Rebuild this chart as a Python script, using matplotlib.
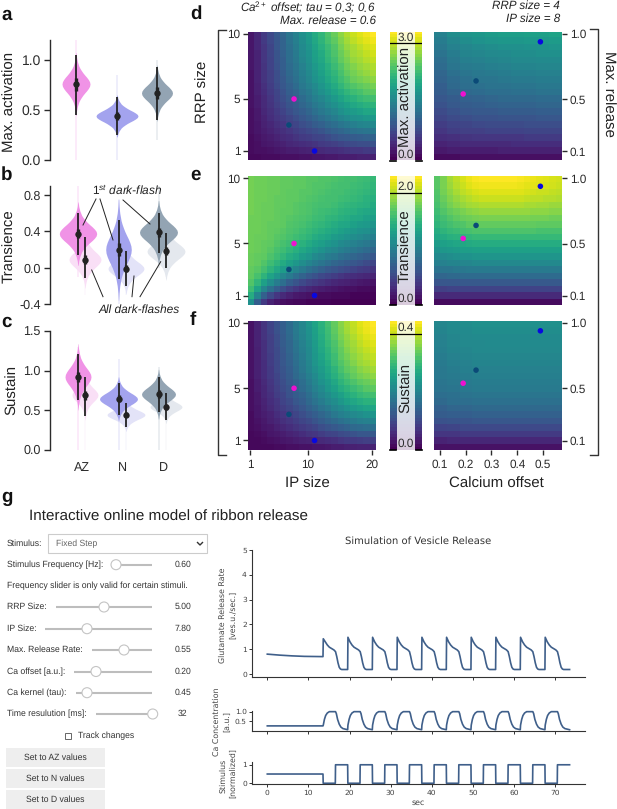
# -*- coding: utf-8 -*-
import matplotlib
matplotlib.use("Agg")
import matplotlib.pyplot as plt
import numpy as np
from matplotlib.patches import Rectangle, Circle

plt.rcParams['font.family'] = ['Liberation Sans', 'DejaVu Sans']
plt.rcParams['mathtext.fontset'] = 'custom'
plt.rcParams['mathtext.it'] = 'Liberation Sans:italic'
plt.rcParams['mathtext.rm'] = 'Liberation Sans'
plt.rcParams['mathtext.default'] = 'it'
plt.rcParams['text.hinting'] = 'no_hinting'

W, H = 617, 809
DARK = '#2b2b2b'

# violins: x, centre, half width, spread, whisker low, whisker high
violin_profile_off = [0, .25, .5, .75, 1, 1.25, 1.5, 1.75, 2, 2.5, 3, 3.5]
violin_profile_w = [1, .97, .88, .76, .62, .49, .38, .28, .2, .1, .04, .01]
az_col, n_col, d_col = '#f093e6', '#a3a3ee', '#93a4b3'
az_light, n_light, d_light = '#f9dff6', '#e3e3f8', '#e4e8ee'

acti_x = [76, 117, 157]
acti_c = [.76, .44, .67]
acti_hw = [14, 21, 15.5]
acti_s = [.09, .06, .08]
acti_lo = [.45, .25, .4]
acti_hi = [1.05, .63, .93]
acti_tail = [(0, 1.2), (0, .85), (.2, 1.0)]

trans_x = [85, 126, 166, 78, 118.5, 158.5]
trans_c = [.09, -.01, .18, .375, .2, .39]
trans_hw = [16, 18, 19, 18.7, 12.8, 19]
trans_s = [.09, .08, .09, .1, .16, .1]
trans_lo = [-.11, -.2, 0, .14, -.12, .16]
trans_hi = [.34, .18, .38, .6, .52, .6]
trans_tail = [(-.3, .4), (-.3, .3), (-.1, .45), (-.1, .9), (-.4, .75), (0, .9)]

sust_x = [85, 126, 166, 78, 118.5, 158.5]
sust_c = [.69, .44, .54, .92, .64, .70]
sust_hw = [13, 19, 16, 13, 19, 17]
sust_s = [.09, .06, .06, .12, .08, .09]
sust_lo = [.42, .29, .37, .63, .44, .48]
sust_hi = [.92, .59, .72, 1.21, .84, .92]
sust_tail = [(0, .95), (0, .7), (0, .8), (0, 1.3), (0, 1.15), (0, 1.05)]
six_cols = [az_light, n_light, d_light, az_col, n_col, d_col]

# heatmaps, percent of the colour range, top row first
activ_left = [
    [6, 11, 17, 22, 28, 33, 39, 44, 50, 55, 61, 66, 72, 77, 83, 88, 92, 95, 98, 100],
    [6, 11, 17, 22, 27, 32, 38, 43, 49, 54, 60, 65, 71, 75, 81, 86, 90, 93, 96, 98],
    [6, 11, 16, 21, 27, 32, 37, 42, 48, 52, 58, 63, 68, 73, 79, 84, 87, 90, 93, 95],
    [6, 10, 16, 21, 26, 31, 36, 41, 47, 51, 57, 61, 67, 72, 77, 82, 86, 88, 91, 93],
    [6, 10, 16, 20, 26, 30, 36, 40, 46, 50, 56, 60, 66, 70, 76, 80, 84, 86, 89, 91],
    [6, 10, 15, 20, 25, 30, 35, 39, 44, 49, 54, 58, 63, 68, 73, 78, 81, 84, 86, 88],
    [5, 10, 15, 19, 24, 29, 34, 38, 43, 47, 52, 57, 62, 66, 71, 76, 79, 82, 84, 86],
    [5, 10, 15, 19, 24, 28, 33, 37, 42, 46, 51, 55, 60, 64, 69, 73, 77, 79, 81, 83],
    [5, 9, 14, 18, 23, 27, 31, 35, 40, 44, 48, 52, 57, 61, 66, 70, 73, 75, 77, 79],
    [5, 9, 13, 17, 21, 25, 30, 33, 38, 41, 46, 50, 54, 58, 62, 66, 69, 71, 74, 75],
    [5, 8, 12, 16, 20, 24, 28, 31, 35, 39, 43, 46, 50, 54, 58, 62, 64, 67, 69, 70],
    [5, 8, 12, 15, 19, 22, 26, 29, 33, 36, 40, 43, 47, 50, 54, 57, 60, 62, 64, 65],
    [4, 7, 11, 14, 17, 20, 24, 27, 30, 33, 37, 40, 43, 46, 50, 53, 55, 57, 59, 60],
    [4, 7, 10, 13, 16, 18, 21, 24, 27, 30, 33, 36, 39, 42, 45, 48, 50, 51, 53, 54],
    [4, 6, 9, 11, 14, 16, 19, 21, 24, 26, 29, 31, 34, 36, 39, 41, 43, 45, 46, 47],
    [4, 6, 8, 10, 12, 14, 16, 18, 20, 22, 24, 26, 29, 31, 33, 35, 37, 38, 39, 40],
    [3, 5, 7, 8, 10, 12, 13, 15, 17, 18, 20, 21, 23, 25, 27, 28, 29, 30, 31, 32],
    [3, 4, 6, 7, 8, 9, 11, 12, 13, 14, 15, 17, 18, 19, 21, 22, 23, 24, 24, 25],
    [3, 4, 4, 5, 6, 7, 8, 8, 9, 10, 11, 12, 13, 13, 14, 15, 16, 16, 17, 17],
    [2, 2, 3, 3, 3, 4, 4, 4, 5, 5, 6, 6, 7, 7, 8, 8, 8, 9, 9, 9],
]
activ_right = [
    [44, 49, 52, 53, 55, 56, 56, 57, 57, 58],
    [42, 46, 49, 51, 52, 53, 53, 54, 54, 55],
    [40, 44, 46, 48, 49, 50, 50, 51, 51, 52],
    [38, 42, 45, 46, 47, 48, 49, 49, 50, 50],
    [36, 40, 43, 44, 45, 46, 47, 47, 48, 48],
    [35, 39, 41, 42, 43, 44, 45, 45, 46, 46],
    [33, 37, 39, 40, 41, 42, 43, 43, 44, 44],
    [32, 35, 37, 39, 39, 40, 41, 41, 42, 42],
    [30, 34, 36, 37, 38, 38, 39, 39, 40, 40],
    [29, 32, 34, 35, 36, 36, 37, 37, 38, 38],
    [27, 29, 31, 32, 33, 34, 34, 34, 35, 35],
    [25, 28, 29, 30, 31, 32, 32, 32, 33, 33],
    [23, 25, 27, 28, 28, 29, 29, 29, 30, 30],
    [21, 23, 24, 25, 25, 26, 26, 26, 27, 27],
    [18, 20, 21, 22, 23, 23, 23, 24, 24, 24],
    [16, 18, 19, 19, 20, 20, 20, 21, 21, 21],
    [13, 14, 15, 16, 16, 16, 16, 17, 17, 17],
    [10, 11, 12, 12, 12, 12, 13, 13, 13, 13],
    [7, 8, 8, 8, 8, 9, 9, 9, 9, 9],
    [3, 3, 4, 4, 4, 4, 4, 4, 4, 4],
]
trans_left = [
    [79, 78, 78, 77, 77, 76, 76, 75, 75, 74, 74, 73, 73, 72, 71, 70, 70, 69, 68, 67],
    [79, 78, 78, 77, 77, 76, 76, 75, 75, 74, 73, 73, 72, 71, 70, 70, 69, 68, 67, 66],
    [79, 78, 78, 77, 77, 76, 75, 75, 74, 74, 73, 72, 71, 70, 70, 69, 68, 67, 66, 65],
    [79, 78, 78, 77, 76, 76, 75, 75, 74, 73, 72, 71, 70, 70, 69, 68, 67, 66, 64, 63],
    [79, 78, 77, 77, 76, 76, 75, 74, 73, 72, 71, 70, 70, 69, 67, 66, 65, 64, 63, 61],
    [79, 78, 77, 77, 76, 75, 75, 74, 73, 72, 70, 69, 68, 67, 65, 64, 63, 61, 60, 59],
    [78, 78, 77, 77, 76, 75, 74, 73, 72, 71, 69, 68, 66, 65, 63, 62, 60, 59, 57, 56],
    [78, 78, 77, 76, 76, 75, 73, 72, 71, 69, 67, 66, 64, 62, 60, 59, 57, 55, 54, 52],
    [78, 78, 77, 76, 75, 74, 72, 71, 69, 67, 65, 63, 61, 59, 57, 55, 53, 51, 50, 48],
    [78, 77, 77, 76, 74, 73, 71, 69, 67, 65, 62, 60, 58, 55, 53, 51, 49, 47, 45, 43],
    [78, 77, 76, 75, 73, 71, 69, 66, 64, 61, 58, 56, 53, 51, 48, 46, 44, 42, 40, 38],
    [78, 77, 76, 74, 71, 69, 66, 63, 60, 57, 54, 51, 48, 46, 43, 41, 39, 37, 35, 33],
    [77, 76, 75, 72, 69, 66, 62, 59, 55, 52, 48, 45, 42, 40, 37, 35, 33, 31, 29, 27],
    [77, 76, 73, 69, 65, 61, 57, 53, 49, 45, 42, 39, 36, 33, 31, 29, 27, 25, 23, 21],
    [76, 74, 70, 65, 60, 55, 50, 45, 41, 37, 34, 31, 28, 26, 24, 22, 20, 18, 17, 15],
    [75, 71, 65, 58, 52, 46, 41, 36, 32, 28, 25, 22, 20, 18, 16, 14, 13, 12, 11, 10],
    [73, 66, 57, 49, 42, 36, 30, 26, 22, 19, 17, 15, 13, 11, 10, 9, 8, 7, 6, 5],
    [69, 58, 46, 37, 30, 24, 19, 16, 13, 11, 9, 8, 7, 6, 5, 4, 4, 3, 3, 2],
    [62, 45, 31, 22, 16, 12, 9, 7, 6, 5, 4, 3, 3, 2, 2, 2, 1, 1, 1, 1],
    [50, 30, 17, 10, 6, 4, 3, 2, 2, 1, 1, 1, 1, 0, 0, 0, 0, 0, 0, 0],
]
trans_right = [
    [74, 80, 86, 90, 94, 97, 99, 100, 100, 100, 100, 100, 100, 99, 98, 97, 96, 95, 94, 93],
    [74, 80, 85, 89, 92, 95, 97, 98, 98, 98, 98, 98, 98, 97, 96, 96, 95, 94, 93, 92],
    [73, 79, 83, 87, 90, 92, 94, 95, 95, 95, 95, 95, 95, 95, 94, 93, 92, 92, 91, 90],
    [72, 77, 81, 84, 87, 89, 91, 92, 92, 92, 92, 92, 92, 92, 91, 90, 90, 89, 89, 88],
    [71, 75, 79, 82, 84, 86, 87, 88, 88, 88, 88, 88, 88, 88, 87, 87, 86, 86, 85, 85],
    [69, 73, 76, 78, 80, 82, 83, 84, 84, 84, 84, 84, 84, 84, 84, 83, 83, 83, 82, 82],
    [67, 70, 73, 75, 77, 78, 79, 80, 80, 80, 80, 80, 80, 80, 80, 79, 79, 79, 78, 78],
    [65, 68, 70, 72, 73, 75, 75, 76, 76, 76, 76, 76, 76, 76, 76, 76, 75, 75, 75, 75],
    [62, 65, 67, 68, 70, 71, 72, 72, 72, 72, 72, 72, 72, 72, 72, 72, 71, 71, 71, 71],
    [59, 61, 63, 64, 65, 66, 67, 67, 67, 67, 67, 67, 67, 67, 67, 67, 67, 67, 67, 67],
    [55, 57, 58, 59, 60, 61, 62, 62, 62, 62, 62, 62, 62, 62, 62, 62, 62, 62, 62, 62],
    [51, 53, 54, 55, 56, 56, 57, 57, 57, 57, 57, 57, 57, 57, 57, 57, 57, 57, 57, 57],
    [47, 48, 49, 50, 51, 51, 52, 52, 52, 52, 52, 52, 52, 52, 52, 52, 52, 52, 52, 52],
    [43, 44, 45, 45, 46, 46, 47, 47, 47, 47, 47, 47, 47, 47, 47, 47, 47, 47, 47, 47],
    [38, 39, 39, 40, 40, 41, 41, 41, 41, 41, 41, 41, 41, 41, 41, 41, 41, 41, 41, 41],
    [33, 33, 34, 34, 35, 35, 35, 35, 35, 35, 35, 35, 35, 35, 35, 35, 35, 35, 35, 35],
    [26, 27, 27, 27, 28, 28, 28, 28, 28, 28, 28, 28, 28, 28, 28, 28, 28, 28, 28, 28],
    [19, 19, 20, 20, 20, 20, 20, 20, 20, 20, 20, 20, 20, 20, 20, 20, 20, 20, 20, 20],
    [11, 12, 12, 12, 12, 12, 12, 12, 12, 12, 12, 12, 12, 12, 12, 12, 12, 12, 12, 12],
    [3, 3, 3, 3, 3, 3, 3, 3, 3, 3, 3, 3, 3, 3, 3, 3, 3, 3, 3, 3],
]
sust_left = [
    [5, 10, 15, 20, 25, 30, 35, 41, 46, 52, 58, 64, 70, 76, 82, 87, 91, 95, 98, 100],
    [5, 10, 15, 20, 25, 30, 35, 41, 46, 51, 57, 63, 69, 75, 81, 86, 90, 94, 97, 99],
    [5, 10, 15, 19, 24, 29, 34, 40, 45, 50, 56, 62, 68, 74, 80, 84, 88, 92, 95, 97],
    [5, 10, 14, 19, 24, 29, 33, 39, 44, 49, 55, 61, 67, 72, 78, 83, 86, 90, 93, 95],
    [5, 9, 14, 19, 23, 28, 33, 38, 43, 48, 54, 60, 65, 71, 76, 81, 85, 88, 91, 93],
    [5, 9, 14, 18, 23, 27, 32, 37, 42, 47, 53, 58, 64, 69, 75, 79, 83, 86, 89, 91],
    [5, 9, 13, 18, 22, 27, 31, 36, 41, 46, 52, 57, 62, 68, 73, 77, 81, 85, 87, 89],
    [5, 9, 13, 17, 22, 26, 30, 35, 40, 45, 50, 55, 60, 65, 71, 75, 78, 82, 84, 86],
    [5, 9, 13, 17, 21, 25, 29, 34, 38, 43, 48, 53, 58, 63, 68, 72, 76, 79, 81, 83],
    [4, 8, 12, 16, 20, 24, 28, 32, 36, 41, 46, 51, 55, 60, 65, 69, 72, 75, 77, 79],
    [4, 8, 11, 15, 19, 23, 26, 31, 35, 39, 44, 48, 53, 57, 62, 65, 68, 71, 74, 75],
    [4, 7, 11, 14, 18, 21, 25, 29, 32, 36, 41, 45, 49, 53, 57, 61, 64, 67, 69, 70],
    [4, 7, 10, 13, 16, 20, 23, 27, 30, 34, 38, 42, 46, 49, 53, 57, 59, 62, 64, 65],
    [4, 6, 9, 12, 15, 18, 21, 24, 27, 31, 34, 38, 41, 45, 48, 51, 54, 56, 58, 59],
    [3, 6, 8, 10, 13, 16, 18, 21, 24, 27, 30, 33, 36, 40, 43, 45, 47, 49, 51, 52],
    [3, 5, 7, 9, 11, 14, 16, 18, 21, 23, 26, 29, 32, 34, 37, 39, 41, 43, 44, 45],
    [3, 4, 6, 7, 9, 11, 13, 15, 17, 19, 21, 24, 26, 28, 30, 32, 34, 35, 36, 37],
    [2, 3, 4, 6, 7, 8, 10, 11, 13, 15, 16, 18, 20, 21, 23, 24, 25, 27, 27, 28],
    [2, 2, 3, 4, 5, 6, 7, 8, 9, 10, 11, 12, 13, 14, 16, 17, 17, 18, 19, 19],
    [2, 2, 2, 2, 3, 3, 4, 4, 5, 5, 6, 6, 7, 8, 8, 9, 9, 10, 10, 10],
]
sust_right = [
    [46, 48, 49, 50, 50, 50, 50, 50, 50, 50],
    [45, 47, 48, 49, 49, 49, 49, 49, 49, 49],
    [44, 46, 47, 48, 48, 48, 48, 48, 48, 48],
    [44, 46, 47, 47, 48, 48, 48, 48, 48, 48],
    [43, 45, 46, 47, 47, 47, 47, 47, 47, 47],
    [42, 44, 45, 46, 46, 46, 46, 46, 46, 46],
    [41, 43, 44, 45, 45, 45, 45, 45, 45, 45],
    [40, 42, 43, 44, 44, 44, 44, 44, 44, 44],
    [40, 41, 42, 43, 43, 43, 43, 43, 43, 43],
    [39, 40, 41, 42, 42, 42, 42, 42, 42, 42],
    [38, 39, 40, 41, 41, 41, 41, 41, 41, 41],
    [36, 37, 38, 39, 39, 39, 39, 39, 39, 39],
    [34, 36, 36, 37, 37, 37, 37, 37, 37, 37],
    [31, 33, 33, 34, 34, 34, 34, 34, 34, 34],
    [29, 30, 30, 31, 31, 31, 31, 31, 31, 31],
    [25, 26, 26, 27, 27, 27, 27, 27, 27, 27],
    [20, 21, 22, 22, 22, 22, 22, 22, 22, 22],
    [16, 16, 17, 17, 17, 17, 17, 17, 17, 17],
    [10, 11, 11, 11, 11, 11, 11, 11, 11, 11],
    [5, 5, 5, 5, 5, 5, 5, 5, 5, 5],
]

# points on the maps: AZ, D, N
dot_cols = ['#ee11d0', '#0b4a78', '#0808e0']
dot_ip = [7.8, 7.0, 11.0]
dot_rrp = [5.0, 3.0, 1.0]
dot_ca = [.19, .24, .49]
dot_rel = [.54, .64, .94]

# simulation traces
rel_base_t = [0, 3, 6, 9, 13.55]
rel_base = [.8, .76, .73, .71, .7]
rel_first_peak = 1.42
cycle_onsets = [13.6, 19.6, 25.6, 31.6, 37.6, 43.6, 49.6, 55.6, 61.6, 67.6]
rel_cycle_t = [.02, .5, 1, 1.5, 2, 2.6, 3, 3.3, 3.6, 3.9, 4.2, 4.5, 5.95]
rel_cycle = [1.48, 1.3, 1.17, 1.08, 1.03, .97, .9, .7, .45, .27, .2, .18, .18]
ca_base_t = [0, 13.55]
ca_base = [.26, .26]
ca_cycle_t = [.02, .3, .6, 1, 1.5, 3, 3.2, 3.5, 3.9, 4.3, 4.8, 5.5, 5.95]
ca_cycle = [.3, .6, .8, .93, 1, 1, .9, .6, .35, .2, .12, .08, .06]
stim_base_t = [0, 13.55]
stim_base = [.5, .5]
stim_cycle_t = [.0, 2.95, 3, 5.95]
stim_cycle = [0, 0, 1, 1]

slider_names = ['RRP Size:', 'IP Size:', 'Max. Release Rate:', 'Ca offset [a.u.]:',
                'Ca kernel (tau):', 'Time resulution [ms]:']
slider_vals = ['5.00', '7.80', '0.55', '0.20', '0.45', '32']
button_names = ['Set to AZ values', 'Set to N values', 'Set to D values']

fig = plt.figure(figsize=(W / 100, H / 100), dpi=100)


def ax_px(x0, y0, x1, y1, **kw):
    return fig.add_axes([x0 / W, 1 - y1 / H, (x1 - x0) / W, (y1 - y0) / H], **kw)


def draw_violins(ax, xs, cs, hws, ss, los, his, tails, cols):
    off = np.array(violin_profile_off)
    wid = np.array(violin_profile_w)
    off = np.concatenate([-off[::-1], off[1:]])
    wid = np.concatenate([wid[::-1], wid[1:]])
    for x, c, hw, s, lo, hi, tail, col in zip(xs, cs, hws, ss, los, his, tails, cols):
        ax.plot([x, x], tail, color=col, alpha=.22, lw=1.2, solid_capstyle='butt', zorder=1)
        ax.fill_betweenx(c + off * s, x - wid * hw, x + wid * hw, color=col, lw=0, zorder=2)
        ax.plot([x, x], [lo, hi], color='#222222', lw=1.3, solid_capstyle='butt', zorder=3)
        ax.plot([x, x], [c - (c - lo) * .22, c + (hi - c) * .22], color='#222222', lw=2.4,
                solid_capstyle='butt', zorder=3)
        ax.plot([x], [c], 'o', color='#222222', ms=4.6, mew=0, zorder=4)


def violin_axes(box, ylim, ticks, labels):
    ax = ax_px(*box)
    ax.set_xlim(box[0], box[2])
    ax.set_ylim(*ylim)
    ax.patch.set_alpha(0)
    for s in ['top', 'right', 'bottom']:
        ax.spines[s].set_visible(False)
    ax.spines['left'].set_linewidth(1.0)
    ax.spines['left'].set_color(DARK)
    ax.set_xticks([])
    ax.set_yticks(ticks)
    ax.set_yticklabels(labels)
    ax.tick_params(axis='y', length=4.3, width=1, color=DARK, labelsize=9, labelcolor=DARK, pad=2)
    return ax


ax_a = violin_axes((49.5, 40, 195, 160), (0, 1.2), [0, .5, 1], ['0.0', '0.5', '1.0'])
ax_a.tick_params(axis='y', labelsize=10)
draw_violins(ax_a, acti_x, acti_c, acti_hw, acti_s, acti_lo, acti_hi, acti_tail, [az_col, n_col, d_col])

ax_b = violin_axes((49.5, 186, 195, 304), (-.4, .9), [-.4, 0, .4, .8], ['-0.4', '0.0', '0.4', '0.8'])
draw_violins(ax_b, trans_x, trans_c, trans_hw, trans_s, trans_lo, trans_hi, trans_tail, six_cols)

ax_c = violin_axes((49.5, 331, 195, 449.5), (0, 1.5), [0, .5, 1, 1.5], ['0.0', '0.5', '1.0', '1.5'])
draw_violins(ax_c, sust_x, sust_c, sust_hw, sust_s, sust_lo, sust_hi, sust_tail, six_cols)
ax_c.set_xticks([82, 122, 163])
ax_c.set_xticklabels(['AZ', 'N', 'D'])
ax_c.tick_params(axis='x', length=0, labelsize=9, labelcolor=DARK, pad=9)


def heat_axes(box, table, xlim, ylim, yticks, ylabs, side, dots_x, dots_y):
    ax = ax_px(*box)
    ax.imshow(np.array(table), cmap='viridis', vmin=0, vmax=100, aspect='auto', interpolation='nearest',
              extent=(xlim[0], xlim[1], ylim[0], ylim[1]))
    ax.scatter(dots_x, dots_y, c=dot_cols, s=16, linewidths=0, zorder=3)
    ax.set_xlim(*xlim)
    ax.set_ylim(*ylim)
    for s in ax.spines.values():
        s.set_visible(False)
    ax.set_xticks([])
    ax.set_yticks(yticks)
    ax.set_yticklabels(ylabs)
    if side == 'right':
        ax.yaxis.tick_right()
    ax.tick_params(axis='y', length=3.6, width=1, color=DARK, labelsize=8.5, labelcolor=DARK, pad=2)
    return ax


def colorbar_axes(box, vtop, tick_val, tick_lab, cbar_label, lab_y):
    ax = ax_px(*box)
    ramp = np.linspace(1, 0, 40).reshape(-1, 1)
    ax.imshow(ramp, cmap='viridis', vmin=0, vmax=1, aspect='auto', extent=(0, 32, 0, vtop))
    ax.set_xlim(0, 32)
    ax.set_ylim(0, vtop)
    ax.add_patch(Rectangle((7, 0), 18, vtop, fc='white', alpha=.8, lw=0, zorder=2))
    ax.plot([0, 32], [tick_val, tick_val], color='black', lw=.9, zorder=3)
    for seg in ([0, 6], [26, 32]):
        ax.plot(seg, [0, 0], color='black', lw=1.2, zorder=3, clip_on=False)
    ax.axis('off')
    scale = vtop / (box[3] - box[1])
    ax.text(16, tick_val + 6 * scale, tick_lab, ha='center', va='center', fontsize=8.5, color=DARK, zorder=4)
    ax.text(16, 6 * scale, '0.0', ha='center', va='center', fontsize=8.5, color=DARK, zorder=4)
    ax.text(16, (box[3] - lab_y) * scale, cbar_label, rotation=90, ha='center', va='center',
            fontsize=10.8, color='#222222', zorder=4)
    return ax


ip_lim, rrp_lim = (.61, 20.6), (.27, 10.15)
ca_lim, rel_lim = (.0766, .574), (.03, 1.015)
rows = [(32, 160.5), (176.5, 305), (321, 450)]
lefts = [activ_left, trans_left, sust_left]
rights = [activ_right, trans_right, sust_right]
for (y0, y1), lt, rt in zip(rows, lefts, rights):
    heat_axes((248, y0, 376, y1), lt, ip_lim, rrp_lim, [1, 5, 10], ['1', '5', '10'], 'left', dot_ip, dot_rrp)
    heat_axes((434, y0, 562, y1), rt, ca_lim, rel_lim, [.1, .5, 1], ['0.1', '0.5', '1.0'], 'right', dot_ca, dot_rel)

ax_fl = fig.axes[-2]
ax_fr = fig.axes[-1]
ax_fl.set_xticks([1, 10, 20])
ax_fl.set_xticklabels(['1', '10', '20'])
ax_fr.set_xticks([.1, .2, .3, .4, .5])
ax_fr.set_xticklabels(['0.1', '0.2', '0.3', '0.4', '0.5'])
for ax in (ax_fl, ax_fr):
    ax.tick_params(axis='x', length=3.6, width=1, color=DARK, labelsize=8.5, labelcolor=DARK, pad=3)

colorbar_axes((390, 32, 422, 160.5), 3.29, 3.0, '3.0', 'Max. activation', 97)
colorbar_axes((390, 176.5, 422, 305), 2.3, 2.0, '2.0', 'Transience', 246)
colorbar_axes((390, 321, 422, 450), .445, .4, '0.4', 'Sustain', 388)


def cycle_trace(base_t, base, cyc_t, cyc):
    t = list(base_t)
    y = list(base)
    for onset in cycle_onsets:
        t += [onset + c for c in cyc_t]
        y += cyc
    return t, y


TRACE = '#3f5f8a'
sim_box = [(252.3, 550, 585, 676.7), (252.3, 710.7, 585, 730.7), (252.3, 762, 585, 784)]
sim_ylim = [(-.11, 5), (.01, 1.05), (-.04, 1.15)]
traces = [cycle_trace(rel_base_t, rel_base, rel_cycle_t, rel_cycle),
          cycle_trace(ca_base_t, ca_base, ca_cycle_t, ca_cycle),
          cycle_trace(stim_base_t, stim_base, stim_cycle_t, stim_cycle)]
traces[0][1][len(rel_base)] = rel_first_peak
sim_yticks = [[0, 1, 2, 3, 4, 5], [.5, 1], [0, 1]]
sim_ylabs = [['0', '1', '2', '3', '4', '5'], ['0.5', '1.0'], ['0', '1']]
for i in range(3):
    ax = ax_px(*sim_box[i])
    ax.plot(traces[i][0], traces[i][1], color=TRACE, lw=1.2, clip_on=False)
    ax.set_xlim(-3.65, 77.3)
    ax.set_ylim(*sim_ylim[i])
    for s in ['top', 'right']:
        ax.spines[s].set_visible(False)
    for s in ['left', 'bottom']:
        ax.spines[s].set_linewidth(.8)
        ax.spines[s].set_color('#333333')
    ax.set_yticks(sim_yticks[i])
    ax.set_yticklabels(sim_ylabs[i], family='DejaVu Sans')
    ax.set_xticks(list(range(0, 80, 10)))
    if i == 2:
        ax.set_xticklabels([str(v) for v in range(0, 80, 10)], family='DejaVu Sans')
    else:
        ax.set_xticklabels([])
    ax.tick_params(length=2.4, width=.7, color='#333333', labelsize=5.4, labelcolor='#444444', pad=1.5)

# overlay in picture pixels: letters, labels, brackets, widgets
ov = fig.add_axes([0, 0, 1, 1], zorder=10)
ov.set_xlim(0, W)
ov.set_ylim(H, 0)
ov.axis('off')
ov.patch.set_alpha(0)

for letter, x, y in [('a', 1, 15), ('b', 1, 175), ('c', 1, 322), ('d', 190, 14), ('e', 190, 175),
                     ('f', 190, 320), ('g', 1, 497)]:
    ov.text(x, y, letter, fontsize=13.5, fontweight='bold', va='center', ha='left', color='#111111')

for txt, x, y in [('Max. activation', 10, 102), ('Transience', 10, 246), ('Sustain', 12, 390),
                  ('RRP size', 203, 92)]:
    ov.text(x, y, txt, fontsize=10.8, rotation=90, ha='center', va='center', color='#222222')
ov.text(608, 94, 'Max. release', fontsize=10.8, rotation=270, ha='center', va='center', color='#222222')
ov.text(307.7, 484, 'IP size', fontsize=10.8, ha='center', va='center', color='#222222')
ov.text(496, 484, 'Calcium offset', fontsize=10.8, ha='center', va='center', color='#222222')

for txt, x, y in [('Ca$^{2+}$ offset; tau = 0.3; 0.6', 376, 7.5), ('Max. release = 0.6', 376, 20.5),
                  ('RRP size = 4', 560, 5.5), ('IP size = 8', 560, 19)]:
    ov.text(x, y, txt, fontsize=8.4, style='italic', ha='right', va='center', color='#222222')

ov.plot([226, 218, 218, 226], [30, 30, 455, 455], color='#333333', lw=1)
ov.plot([590, 598, 598, 590], [29, 29, 455, 455], color='#333333', lw=1)

ov.text(127, 190.5, r'$1^{st}$ dark-flash', fontsize=8.6, style='italic', ha='center', va='center', color='#222222')
ov.text(139, 310, 'All dark-flashes', fontsize=8.6, style='italic', ha='center', va='center', color='#222222')
leaders = [((96, 199), (83, 225)), ((100, 199), (113, 240)), ((123, 200), (150, 224)),
           ((91.7, 270), (103, 296.7)), ((134, 276), (132, 296.7)), ((160.7, 261.7), (140, 296.7))]
for a, b in leaders:
    ov.plot([a[0], b[0]], [a[1], b[1]], color='#222222', lw=.7)

ov.text(29, 517, 'Interactive online model of ribbon release', fontsize=11, ha='left', va='center', color='#222222')
ov.text(418, 541.5, 'Simulation of Vesicle Release', family='DejaVu Sans', fontsize=7.2, ha='center', va='center', color='#333333')
ov.text(418, 803, 'sec', family='DejaVu Sans', fontsize=5.7, ha='center', va='center', color='#444444')
for txt, x, y in [('Glutamate Release Rate', 223, 615), ('[ves.u./sec.]', 233, 615),
                  ('Ca Concentration', 216.5, 722), ('[a.u.]', 227, 722),
                  ('Stimulus', 223, 775.5), ('[normalized]', 233, 773)]:
    ov.text(x, y, txt, family='DejaVu Sans', fontsize=5.7, rotation=90, ha='center', va='center', color='#444444')

WTXT = '#333333'
ov.text(7, 543.7, 'Stimulus:', fontsize=6.2, va='center', color=WTXT)
ov.add_patch(Rectangle((48, 534), 158.5, 18.5, fc='white', ec='#cccccc', lw=.8))
ov.text(56, 543.7, 'Fixed Step', fontsize=6.2, va='center', color='#666666')
ov.plot([197.5, 200, 202.5], [542.5, 545, 542.5], color='#333333', lw=1)

slider_y = [607, 628.7, 650, 671.5, 692.7, 714]
track_x0 = [56, 45, 92, 74, 76, 96]
handle_x = [104, 87, 124, 96, 87, 152.7]


def draw_slider(name, val, y, x0, hx, val_x):
    ov.text(7, y, name, fontsize=6.2, va='center', color=WTXT)
    ov.plot([x0, 152], [y, y], color='#bdbdbd', lw=1.5, solid_capstyle='butt', zorder=2)
    ov.add_patch(Circle((hx, y), 5, fc='white', ec='#c4c4c4', lw=.8, zorder=3))
    ov.text(val_x, y, val, fontsize=6.2, va='center', ha='right', color=WTXT)


draw_slider('Stimulus Frequency [Hz]:', '0.60', 564.7, 111, 116, 191)
ov.text(7, 586, 'Frequency slider is only valid for certain stimuli.', fontsize=6.2, va='center', color=WTXT)
for name, val, y, x0, hx in zip(slider_names, slider_vals, slider_y, track_x0, handle_x):
    draw_slider(name, val, y, x0, hx, 187.5 if val == '32' else 191)

ov.add_patch(Rectangle((65, 732.5), 6, 6, fc='white', ec='#666666', lw=.7))
ov.text(78, 735.5, 'Track changes', fontsize=6.2, va='center', color=WTXT)
for name, y in zip(button_names, [748, 769, 790]):
    ov.add_patch(Rectangle((6, y), 99, 18.5, fc='#eeeeee', ec='none'))
    ov.text(55.5, y + 9.5, name, fontsize=6.2, ha='center', va='center', color=WTXT)

fig.savefig('out.png', dpi=100)
